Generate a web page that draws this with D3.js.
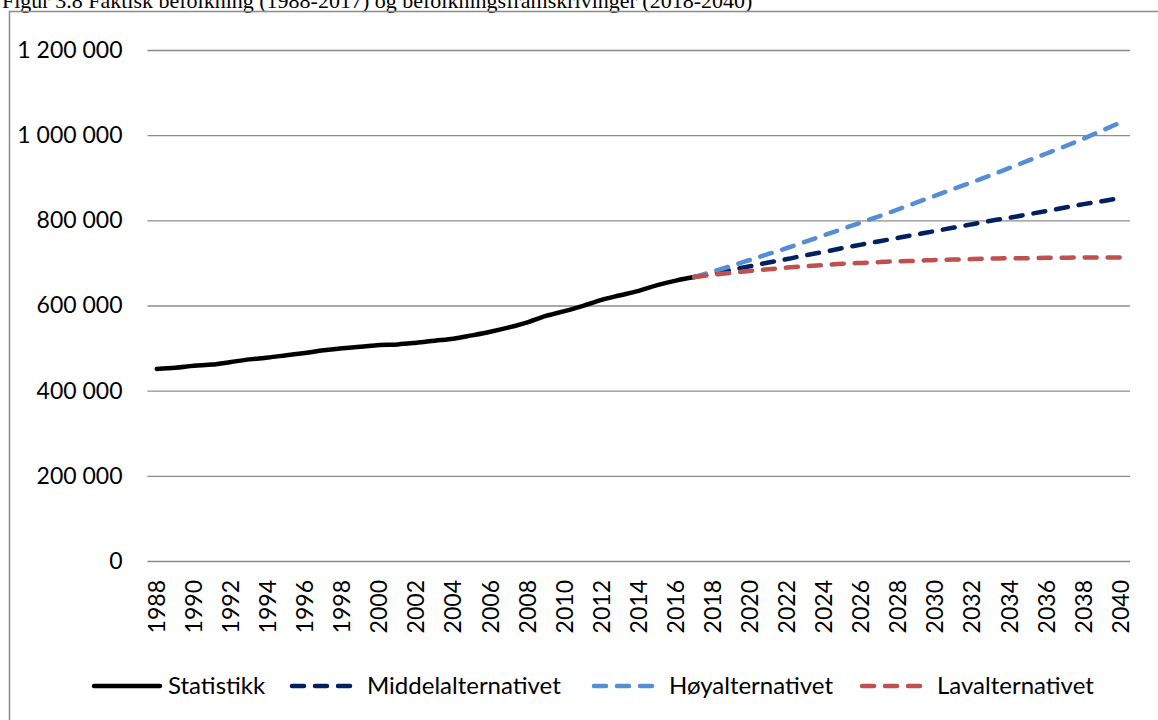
<!DOCTYPE html>
<html lang="no">
    <head>
        <meta charset="utf-8">
        <title>Figur 3.8</title>
        <style>
            body{
                margin:0;
                background:white;
            }
            svg text{
                font-family: Lato, "Open Sans", sans-serif;
                fill:#000;
            }
            #title{
                font-family: "Liberation Serif", "Times New Roman", serif;
            }
        </style>
    </head>
    <body>
        <svg id="chart" width="1158" height="720"></svg>

        <script src="https://d3js.org/d3.v7.min.js"></script>
        <script>
            // faktisk befolkning 1988-2017
            const statYears = d3.range(1988, 2018)
            const statistikk = [
                451100, 453700, 458400, 461200, 467400, 473500, 477800, 483400, 488700, 494800,
                499700, 502900, 507500, 508700, 512600, 517400, 521900, 529800, 538400, 548600,
                560500, 575500, 586900, 599200, 613300, 624000, 634500, 647700, 658400, 666800
            ]
            // framskrivinger 2017-2040
            const projYears = d3.range(2017, 2041)
            const middel = [
                666800, 675000, 684000, 692000, 701000, 709000, 718000, 726000, 735000, 743000,
                751000, 759000, 767000, 775000, 783000, 791000, 799000, 806000, 814000, 822000,
                830000, 838000, 845000, 853000
            ]
            const hoy = [
                666800, 680000, 693000, 707000, 721000, 735000, 750000, 765000, 780000, 795000,
                810000, 826000, 842000, 858000, 874000, 890000, 906000, 923000, 940000, 957000,
                974000, 992000, 1011000, 1030000
            ]
            const lav = [
                666800, 672000, 677000, 681000, 685000, 689000, 692000, 695000, 698000, 700000,
                702000, 704000, 705000, 707000, 708000, 709000, 710000, 711000, 711000, 712000,
                712000, 713000, 713000, 713000
            ]
            const allYears = d3.range(1988, 2041)
            const yTicks = [0, 200000, 400000, 600000, 800000, 1000000, 1200000]

            const series = [
                {name:"Statistikk", years:statYears, values:statistikk, color:"#000000", dash:null},
                {name:"Middelalternativet", years:projYears, values:middel, color:"#002060", dash:"12,11"},
                {name:"Høyalternativet", years:projYears, values:hoy, color:"#558ED5", dash:"12,11"},
                {name:"Lavalternativet", years:projYears, values:lav, color:"#C0504D", dash:"12,11"}
            ]

            const svg = d3.select("#chart")
            const fmt = d => d3.format(",")(d).replace(/,/g, " ")

            // tittel (delvis utenfor bildet, som i originalen)
            svg.append("text")
                .attr("id","title")
                .attr("x",2)
                .attr("y",8)
                .attr("font-size",22)
                .text("Figur 3.8 Faktisk befolkning (1988-2017) og befolkningsframskrivinger (2018-2040)")

            // ramme
            svg.append("rect")
                .attr("x",9.5)
                .attr("y",11.5)
                .attr("width",1200)
                .attr("height",760)
                .attr("fill","none")
                .attr("stroke","#8c8c8c")
                .attr("stroke-width",1.5)

            const xScale = d3.scaleBand()
                .domain(allYears)
                .range([147.5,1130])
            const xPos = yr => xScale(yr) + xScale.bandwidth()/2

            const yScale = d3.scaleLinear()
                .domain([0,1200000])
                .range([561,50])

            //grid + y-akse
            const yAxis = d3.axisLeft(yScale)
                .tickValues(yTicks)
                .tickFormat(fmt)
                .tickSize(-(1130-147.5))
                .tickPadding(25)

            const gy = svg.append("g")
                .attr("transform","translate(147.5,0)")
                .call(yAxis)
            gy.select(".domain").remove()
            gy.selectAll(".tick line")
                .attr("stroke","#8c8c8c")
                .attr("stroke-width",1.4)
            gy.selectAll(".tick text")
                .attr("font-size",23)
                .attr("font-family","Lato")
                .attr("fill","#000")

            // x-akse, hvert andre år
            const xAxis = d3.axisBottom(xScale)
                .tickValues(allYears.filter(y => y % 2 === 0))
                .tickSize(0)
            const gx = svg.append("g")
                .attr("transform","translate(0,561)")
                .call(xAxis)
            gx.select(".domain").remove()
            gx.selectAll(".tick text")
                .attr("font-size",23)
                .attr("font-family","Lato")
                .attr("fill","#000")
                .attr("transform","rotate(-90)")
                .attr("x",-19)
                .attr("y",0)
                .attr("dy","0.35em")
                .attr("text-anchor","end")

            // linjer
            const line = d3.line()
                .x(d => xPos(d.year))
                .y(d => yScale(d.value))
                .curve(d3.curveMonotoneX)

            series.forEach(s => {
                const pts = s.years.map((yr,i) => ({year:yr, value:s.values[i]}))
                svg.append("path")
                    .datum(pts)
                    .attr("d",line)
                    .attr("fill","none")
                    .attr("stroke",s.color)
                    .attr("stroke-width",4.5)
                    .attr("stroke-linecap","round")
                    .attr("stroke-linejoin","round")
                    .attr("stroke-dasharray",s.dash)
            })

            // forklaring
            const legendX = [92, 290, 592, 860]
            const legend = svg.append("g")
                .attr("transform","translate(0,686)")
            series.forEach((s,i) => {
                legend.append("line")
                    .attr("x1",legendX[i]+2)
                    .attr("x2",legendX[i]+(s.dash ? 60 : 68))
                    .attr("y1",0)
                    .attr("y2",0)
                    .attr("stroke",s.color)
                    .attr("stroke-width",4.5)
                    .attr("stroke-linecap","round")
                    .attr("stroke-dasharray",s.dash)
                legend.append("text")
                    .attr("x",legendX[i]+(s.dash ? 77 : 76))
                    .attr("y",0)
                    .attr("dy","0.35em")
                    .attr("font-size",24)
                    .text(s.name)
            })
        </script>
    </body>
</html>
